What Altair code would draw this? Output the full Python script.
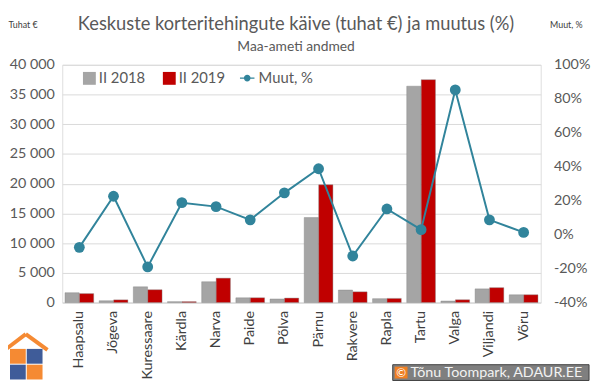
import altair as alt
import pandas as pd

cities = ["Haapsalu", "Jõgeva", "Kuressaare", "Kärdla", "Narva", "Paide", "Põlva",
          "Pärnu", "Rakvere", "Rapla", "Tartu", "Valga", "Viljandi", "Võru"]
v2018 = [1650, 300, 2650, 150, 3500, 800, 600, 14300, 2100, 650, 36400, 250, 2300, 1300]
v2019 = [1500, 450, 2150, 150, 4100, 800, 750, 19800, 1800, 700, 37500, 460, 2500, 1300]
muut = [-7.5, 22.6, -19.0, 18.8, 16.5, 8.7, 24.6, 38.8, -12.6, 15.1, 2.9, 85.2, 8.7, 1.3]
series = ["II 2018", "II 2019"]

title_text = "Keskuste korteritehingute käive (tuhat €) ja muutus (%)"
subtitle_text = "Maa-ameti andmed"
credit_text = "Tõnu Toompark, ADAUR.EE"

FONT = "Lato"
GRAY_TXT = "#595959"

rows = []
for c, a, b in zip(cities, v2018, v2019):
    rows.append({"linn": c, "aasta": series[0], "kaive": a})
    rows.append({"linn": c, "aasta": series[1], "kaive": b})
bars_df = pd.DataFrame(rows)
line_df = pd.DataFrame({"linn": cities, "muut": muut, "sari": ["Muut, %"] * len(cities)})

xenc = alt.X("linn:N", sort=cities, title=None,
             scale=alt.Scale(paddingInner=0.16, paddingOuter=0.08),
             axis=alt.Axis(labelAngle=270, labelFontSize=14.5, labelColor="#404040", labelFont=FONT,
                           ticks=False, domainColor="#d9d9d9", labelPadding=8, grid=False))

bars = alt.Chart(bars_df).mark_bar(stroke="#7f7f7f", strokeWidth=0.4).encode(
    x=xenc,
    xOffset=alt.XOffset("aasta:N", sort=series, scale=alt.Scale(paddingInner=0.02)),
    y=alt.Y("kaive:Q", title="Tuhat €",
            scale=alt.Scale(domain=[0, 40000], nice=False),
            axis=alt.Axis(values=list(range(0, 40001, 5000)),
                          labelExpr="replace(format(datum.value, ','), ',', ' ')",
                          labelFontSize=14.5, labelColor=GRAY_TXT, labelFont=FONT, labelPadding=8,
                          ticks=False, domain=False, gridColor="#d9d9d9",
                          titleAngle=0, titleX=-55, titleY=-41, titleAlign="left",
                          titleBaseline="middle", titleFontSize=9, titleFontWeight="normal",
                          titleColor="#404040", titleFont=FONT)),
    color=alt.Color("aasta:N", sort=series,
                    scale=alt.Scale(domain=series, range=["#A5A5A5", "#C00000"]),
                    legend=alt.Legend(title=None, orient="none", legendX=20, legendY=6,
                                      direction="horizontal", symbolType="square", symbolSize=170,
                                      labelFontSize=15, labelColor=GRAY_TXT, labelFont=FONT,
                                      columnPadding=16, symbolStrokeWidth=0, labelOffset=2)),
)

legend_path = ("M -1.4 0 L -0.5 0 M 0.5 0 L 1.4 0 "
               "M 0.5 0 A 0.5 0.5 0 1 1 -0.5 0 A 0.5 0.5 0 1 1 0.5 0")

line = alt.Chart(line_df).mark_line(strokeWidth=2, point=alt.OverlayMarkDef(filled=True, size=120)).encode(
    x=alt.X("linn:N", sort=cities),
    y=alt.Y("muut:Q", title="Muut, %",
            scale=alt.Scale(domain=[-40, 100], nice=False),
            axis=alt.Axis(orient="right", values=list(range(-40, 101, 20)),
                          labelExpr="datum.value + '%'",
                          labelFontSize=14.5, labelColor=GRAY_TXT, labelFont=FONT, labelPadding=13,
                          ticks=False, domain=False, grid=False,
                          titleAngle=0, titleX=9, titleY=-41, titleAlign="left",
                          titleBaseline="middle", titleFontSize=9, titleFontWeight="normal",
                          titleColor="#404040", titleFont=FONT)),
    color=alt.Color("sari:N", scale=alt.Scale(domain=["Muut, %"], range=["#31849B"]),
                    legend=alt.Legend(title=None, orient="none", legendX=180, legendY=6,
                                      symbolType=legend_path, symbolSize=110,
                                      symbolFillColor="#31849B", symbolStrokeColor="#31849B",
                                      symbolStrokeWidth=1.5,
                                      labelFontSize=15, labelColor=GRAY_TXT, labelFont=FONT)),
)

deco = pd.DataFrame({"k": [0]})

title_m = alt.Chart(deco).mark_text(text=title_text, color=GRAY_TXT, fontSize=18.5, font=FONT,
                                    align="center", baseline="middle").encode(
    x=alt.value(237), y=alt.value(-41))
sub_m = alt.Chart(deco).mark_text(text=subtitle_text, color=GRAY_TXT, fontSize=14, font=FONT,
                                  align="center", baseline="middle").encode(
    x=alt.value(237), y=alt.value(-18))

box = alt.Chart(deco).mark_rect(fill="#7f7f7f", stroke="#404040", strokeWidth=1).encode(
    x=alt.value(335), x2=alt.value(534), y=alt.value(304), y2=alt.value(320))
cbox = alt.Chart(deco).mark_rect(fill="#F07F22").encode(
    x=alt.value(337), x2=alt.value(350), y=alt.value(306), y2=alt.value(318))
ctext = alt.Chart(deco).mark_text(text="©", color="white", fontSize=12, font=FONT).encode(
    x=alt.value(343.5), y=alt.value(312.5))
ttext = alt.Chart(deco).mark_text(text=credit_text, color="#f2f2f2", fontSize=14.5,
                                  font=FONT, align="left").encode(
    x=alt.value(353), y=alt.value(312.5))

sq = []
for (x0, y0, col) in [(-53, 288, "#F58A33"), (-36, 288, "#3F5C99"), (-53, 304, "#3F5C99"), (-36, 304, "#F58A33")]:
    sq.append(alt.Chart(deco).mark_rect(fill=col).encode(
        x=alt.value(x0), x2=alt.value(x0 + 16), y=alt.value(y0), y2=alt.value(y0 + 15)))
r1 = alt.Chart(deco).mark_rule(color="#F58A33", strokeWidth=4).encode(
    x=alt.value(-58), x2=alt.value(-37), y=alt.value(289), y2=alt.value(273))
r2 = alt.Chart(deco).mark_rule(color="#F58A33", strokeWidth=4).encode(
    x=alt.value(-37), x2=alt.value(-15), y=alt.value(273), y2=alt.value(289))

chart = alt.layer(bars, line, title_m, sub_m, box, cbox, ctext, ttext, r1, r2, *sq).resolve_scale(
    y="independent", color="independent"
).properties(
    width=485, height=241,
    autosize=alt.AutoSizeParams(type="none"),
    padding={"left": 55, "top": 55, "right": 52, "bottom": 80},
).configure_view(stroke=None).configure(background="white")

chart.save("out.html", embed_options={"renderer": "svg", "actions": False})
